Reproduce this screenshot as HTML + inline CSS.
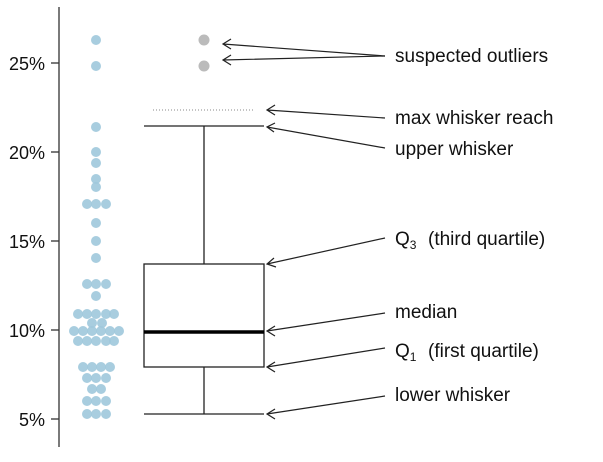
<!DOCTYPE html>
<html><head><meta charset="utf-8"><style>html,body{margin:0;padding:0;background:#fff}</style></head>
<body>
<svg width="603" height="457" viewBox="0 0 603 457" xmlns="http://www.w3.org/2000/svg" font-family="Liberation Sans, sans-serif" font-size="19">
<line x1="59" y1="7" x2="59" y2="447" stroke="#333" stroke-width="1.3"/>
<g stroke="#333" stroke-width="1.3">
<line x1="51" y1="63" x2="59" y2="63"/><line x1="51" y1="152" x2="59" y2="152"/><line x1="51" y1="241" x2="59" y2="241"/><line x1="51" y1="330" x2="59" y2="330"/><line x1="51" y1="419" x2="59" y2="419"/>
</g>
<g text-anchor="end" fill="#111" font-size="18">
<text x="45" y="70">25%</text><text x="45" y="159">20%</text><text x="45" y="248">15%</text><text x="45" y="337">10%</text><text x="45" y="426">5%</text>
</g>
<g fill="#9ec8dc" fill-opacity="0.9">
<circle cx="96" cy="40" r="5"/><circle cx="96" cy="66" r="5"/><circle cx="96" cy="127" r="5"/><circle cx="96" cy="152" r="5"/><circle cx="96" cy="163" r="5"/><circle cx="96" cy="179" r="5"/><circle cx="96" cy="187" r="5"/>
<circle cx="87" cy="204" r="5"/><circle cx="96" cy="204" r="5"/><circle cx="106" cy="204" r="5"/>
<circle cx="96" cy="223" r="5"/><circle cx="96" cy="241" r="5"/><circle cx="96" cy="258" r="5"/>
<circle cx="87" cy="284" r="5"/><circle cx="96" cy="284" r="5"/><circle cx="106" cy="284" r="5"/><circle cx="96" cy="296" r="5"/>
<circle cx="78" cy="314" r="5"/><circle cx="87" cy="314" r="5"/><circle cx="96" cy="314" r="5"/><circle cx="106" cy="314" r="5"/><circle cx="114" cy="314" r="5"/>
<circle cx="92" cy="323" r="5"/><circle cx="102" cy="323" r="5"/>
<circle cx="74" cy="331" r="5"/><circle cx="83" cy="331" r="5"/><circle cx="92" cy="331" r="5"/><circle cx="101" cy="331" r="5"/><circle cx="110" cy="331" r="5"/><circle cx="119" cy="331" r="5"/>
<circle cx="78" cy="341" r="5"/><circle cx="87" cy="341" r="5"/><circle cx="96" cy="341" r="5"/><circle cx="106" cy="341" r="5"/><circle cx="114" cy="341" r="5"/>
<circle cx="83" cy="367" r="5"/><circle cx="92" cy="367" r="5"/><circle cx="101" cy="367" r="5"/><circle cx="110" cy="367" r="5"/>
<circle cx="87" cy="378" r="5"/><circle cx="96" cy="378" r="5"/><circle cx="106" cy="378" r="5"/>
<circle cx="92" cy="389" r="5"/><circle cx="101" cy="389" r="5"/>
<circle cx="87" cy="401" r="5"/><circle cx="96" cy="401" r="5"/><circle cx="106" cy="401" r="5"/>
<circle cx="87" cy="414" r="5"/><circle cx="96" cy="414" r="5"/><circle cx="106" cy="414" r="5"/>
</g>
<circle cx="204" cy="40" r="5.5" fill="#bbb"/><circle cx="204" cy="66" r="5.5" fill="#bbb"/>
<line x1="153" y1="110" x2="254" y2="110" stroke="#888" stroke-width="1" stroke-dasharray="1,2"/>
<g stroke="#222" stroke-width="1.3" fill="none">
<line x1="144" y1="126" x2="264" y2="126"/><line x1="204" y1="126" x2="204" y2="264"/>
<rect x="144" y="264" width="120" height="103" fill="#fff"/>
<line x1="204" y1="367" x2="204" y2="414"/><line x1="144" y1="414" x2="264" y2="414"/>
</g>
<line x1="144" y1="332" x2="264" y2="332" stroke="#000" stroke-width="3.5"/>
<g stroke="#222" stroke-width="1.2" fill="none">
<path d="M385 56 L223 44 M231 39 L223 44 L231 49"/>
<path d="M385 56 L223 60 M231 55 L223 60 L231 65"/>
<path d="M385 118 L267 110 M275 105 L267 110 L275 115"/>
<path d="M385 148 L267 127 M275 123 L267 127 L274 132"/>
<path d="M385 238 L267 264 M274 258 L267 264 L276 267"/>
<path d="M385 313 L267 331 M275 326 L267 331 L275 336"/>
<path d="M385 348 L267 367 M275 362 L267 367 L275 372"/>
<path d="M385 396 L267 414 M275 409 L267 414 L275 419"/>
</g>
<g fill="#111">
<text x="395" y="62">suspected outliers</text>
<text x="395" y="124">max whisker reach</text>
<text x="395" y="155">upper whisker</text>
<text x="395" y="245">Q<tspan font-size="12" dy="4">3</tspan><tspan dy="-4" x="428">(third quartile)</tspan></text>
<text x="395" y="318">median</text>
<text x="395" y="357">Q<tspan font-size="12" dy="4">1</tspan><tspan dy="-4" x="428">(first quartile)</tspan></text>
<text x="395" y="401">lower whisker</text>
</g>
</svg>
</body></html>
